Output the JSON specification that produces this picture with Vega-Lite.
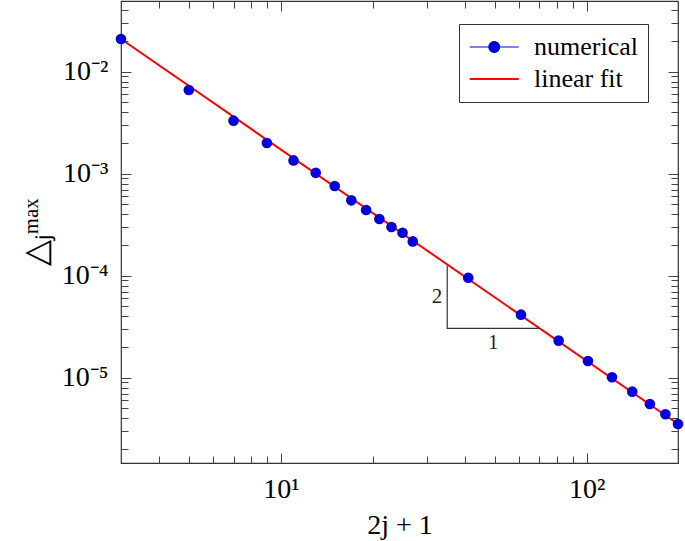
{
"$schema":"https://vega.github.io/schema/vega-lite/v6.json",
"width":557,"height":462,
"autosize":{"type":"none"},
"padding":{"left":121,"top":1,"right":7,"bottom":78},
"background":"white",
"config":{"view":{"stroke":"#333","strokeWidth":1.2},"font":"Liberation Serif"},
"datasets":{
"num":[
{"x":3,"y":0.0209,"series":"numerical"},
{"x":5,"y":0.00662,"series":"numerical"},
{"x":7,"y":0.00331,"series":"numerical"},
{"x":9,"y":0.00200,"series":"numerical"},
{"x":11,"y":0.00135,"series":"numerical"},
{"x":13,"y":0.00102,"series":"numerical"},
{"x":15,"y":0.000757,"series":"numerical"},
{"x":17,"y":0.000548,"series":"numerical"},
{"x":19,"y":0.000441,"series":"numerical"},
{"x":21,"y":0.000360,"series":"numerical"},
{"x":23,"y":0.000300,"series":"numerical"},
{"x":25,"y":0.000264,"series":"numerical"},
{"x":27,"y":0.000217,"series":"numerical"},
{"x":41,"y":0.0000955,"series":"numerical"},
{"x":61,"y":0.0000415,"series":"numerical"},
{"x":81,"y":0.0000231,"series":"numerical"},
{"x":101,"y":0.0000146,"series":"numerical"},
{"x":121,"y":0.0000101,"series":"numerical"},
{"x":141,"y":0.0000073,"series":"numerical"},
{"x":161,"y":0.00000552,"series":"numerical"},
{"x":181,"y":0.00000438,"series":"numerical"},
{"x":199,"y":0.00000352,"series":"numerical"}
],
"fit":[
{"x":3,"y":0.0209,"series":"linear fit"},
{"x":199,"y":0.00000352,"series":"linear fit"}
],
"tri":[
{"x":35,"y":0.000125,"k":0},
{"x":35,"y":0.0000305,"k":1},
{"x":70,"y":0.0000305,"k":2}
],
"lab2":[{"x":35,"y":0.0000617,"t":"2"}],
"lab1":[{"x":49.5,"y":0.0000305,"t":"1"}]
},
"layer":[
{"data":{"name":"fit"},"mark":{"type":"line","strokeWidth":2},
 "encoding":{
  "x":{"field":"x","type":"quantitative","scale":{"type":"log","domain":[3,199],"nice":false},
   "axis":{"orient":"bottom","values":[4,5,6,7,8,9,10,20,30,40,50,60,70,80,90,100],
    "labelExpr":"datum.value == 10 ? '10¹' : datum.value == 100 ? '10²' : ''",
    "tickSize":{"condition":{"test":"indexof([10,100], datum.value) >= 0","value":-10},"value":-7},
    "tickColor":"#444","tickWidth":1,"domain":false,"grid":false,
    "labelFont":"Liberation Serif","labelFontSize":28,"labelColor":"black","labelPadding":22,"labelOverlap":false,"labelFlush":false,
    "title":"2j + 1","titleFont":"Liberation Serif","titleFontSize":28,"titleFontWeight":"normal","titleColor":"black","titlePadding":5}},
  "y":{"field":"y","type":"quantitative","scale":{"type":"log","domain":[0.000001459,0.04932],"nice":false},
   "axis":{"orient":"left","values":[0.000002,0.000003,0.000004,0.000005,0.000006,0.000007,0.000008,0.000009,0.00001,0.00002,0.00003,0.00004,0.00005,0.00006,0.00007,0.00008,0.00009,0.0001,0.0002,0.0003,0.0004,0.0005,0.0006,0.0007,0.0008,0.0009,0.001,0.002,0.003,0.004,0.005,0.006,0.007,0.008,0.009,0.01,0.02,0.03,0.04],
    "labelExpr":"datum.value == 0.01 ? '10⁻²' : datum.value == 0.001 ? '10⁻³' : datum.value == 0.0001 ? '10⁻⁴' : datum.value == 0.00001 ? '10⁻⁵' : ''",
    "tickSize":{"condition":{"test":"indexof([0.01,0.001,0.0001,0.00001], datum.value) >= 0","value":-10},"value":-7},
    "tickColor":"#444","tickWidth":1,"domain":false,"grid":false,
    "labelFont":"Liberation Serif","labelFontSize":28,"labelColor":"black","labelPadding":23,"labelOverlap":false,"labelFlush":false,
    "title":"△ⱼᵐᵃˣ","titleFont":"Liberation Serif","titleFontSize":34,"titleFontWeight":"normal","titleColor":"black","titlePadding":8}},
  "color":{"field":"series","type":"nominal","scale":{"domain":["numerical","linear fit"],"range":["#0000dc","#ff0000"]},
   "legend":{"title":null,"orient":"none","legendX":338,"legendY":23,"fillColor":"white","strokeColor":"#333","padding":10,"rowPadding":6,
    "labelFont":"Liberation Serif","labelFontSize":26,"labelColor":"black","labelOffset":39,"symbolSize":600,"labelBaseline":"middle",
    "encode":{"symbols":{"update":{
     "shape":{"signal":"datum.value === 'numerical' ? 'M-1,0H3M0.56,0A0.44,0.44,0,1,1,1.44,0A0.44,0.44,0,1,1,0.56,0Z' : 'M-1,0H3'"},
     "fill":{"signal":"datum.value === 'numerical' ? '#0000dc' : 'transparent'"},
     "stroke":{"signal":"datum.value === 'numerical' ? '#0000dc' : '#ff0000'"},
     "strokeWidth":{"signal":"datum.value === 'numerical' ? 1.2 : 2"},
     "opacity":{"value":1}}}}}}
 }},
{"data":{"name":"num"},"mark":{"type":"point","filled":true,"size":113,"opacity":1,"shape":"circle"},
 "encoding":{
  "x":{"field":"x","type":"quantitative","scale":{"type":"log","domain":[3,199],"nice":false},
   "axis":{"orient":"top","values":[4,5,6,7,8,9,10,20,30,40,50,60,70,80,90,100],"labels":false,"title":null,
    "tickSize":{"condition":{"test":"indexof([10,100], datum.value) >= 0","value":-10},"value":-7},
    "tickColor":"#444","tickWidth":1,"domain":false,"grid":false}},
  "y":{"field":"y","type":"quantitative","scale":{"type":"log","domain":[0.000001459,0.04932],"nice":false},
   "axis":{"orient":"right","values":[0.000002,0.000003,0.000004,0.000005,0.000006,0.000007,0.000008,0.000009,0.00001,0.00002,0.00003,0.00004,0.00005,0.00006,0.00007,0.00008,0.00009,0.0001,0.0002,0.0003,0.0004,0.0005,0.0006,0.0007,0.0008,0.0009,0.001,0.002,0.003,0.004,0.005,0.006,0.007,0.008,0.009,0.01,0.02,0.03,0.04],"labels":false,"title":null,
    "tickSize":{"condition":{"test":"indexof([0.01,0.001,0.0001,0.00001], datum.value) >= 0","value":-10},"value":-7},
    "tickColor":"#444","tickWidth":1,"domain":false,"grid":false}},
  "color":{"field":"series","type":"nominal"}
 }},
{"data":{"name":"tri"},"mark":{"type":"line","color":"#333","strokeWidth":1.2},
 "encoding":{
  "x":{"field":"x","type":"quantitative","axis":null},
  "y":{"field":"y","type":"quantitative","axis":null},
  "order":{"field":"k","type":"quantitative"}
 }},
{"data":{"name":"lab2"},"mark":{"type":"text","font":"Liberation Serif","fontSize":21,"color":"#222","align":"right","baseline":"middle","dx":-5},
 "encoding":{
  "x":{"field":"x","type":"quantitative","axis":null},
  "y":{"field":"y","type":"quantitative","axis":null},
  "text":{"field":"t"}
 }},
{"data":{"name":"lab1"},"mark":{"type":"text","font":"Liberation Serif","fontSize":21,"color":"#222","align":"center","baseline":"top","dy":4},
 "encoding":{
  "x":{"field":"x","type":"quantitative","axis":null},
  "y":{"field":"y","type":"quantitative","axis":null},
  "text":{"field":"t"}
 }}
],
"resolve":{"axis":{"x":"independent","y":"independent"}}
}
